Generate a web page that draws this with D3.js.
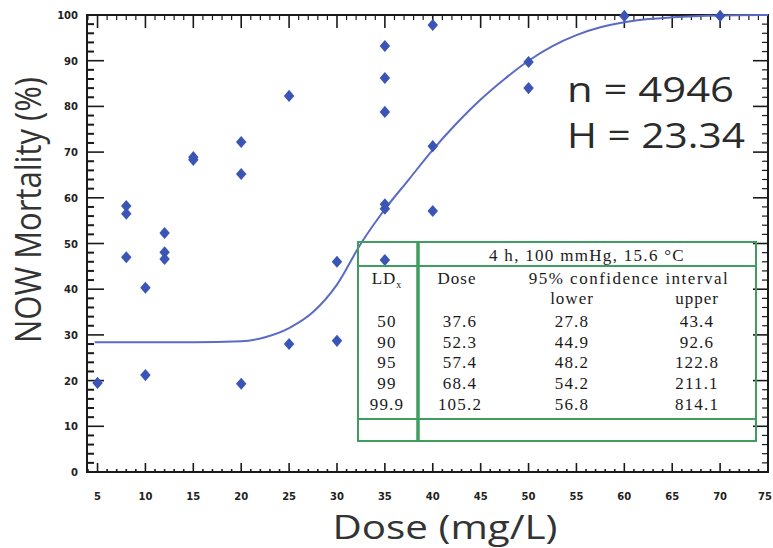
<!DOCTYPE html>
<html>
<head>
<meta charset="utf-8">
<script src="https://cdn.jsdelivr.net/npm/d3@7"></script>
<style>
  body { margin: 0; background: #fff; }
  svg { display: block; }
</style>
</head>
<body>
<div id="chart"></div>
<script>
// Data: observed mortality points
const doseObs = [5, 8, 8, 8, 10, 10, 12, 12, 12, 15, 15, 20, 20, 20, 25, 25, 30, 30,
  35, 35, 35, 35, 35, 35, 40, 40, 40, 50, 50, 60, 70];
const mortObs = [19.5, 58.2, 56.5, 47, 40.3, 21.2, 52.3, 48.1, 46.6, 68.9, 68.3, 72.2, 65.2, 19.3, 82.3, 28, 46, 28.7,
  93.2, 86.2, 78.8, 58.6, 57.6, 46.4, 97.8, 71.3, 57.1, 89.7, 84, 99.8, 99.8];

// Fitted curve
const fitDose = [4.7, 10, 15, 20, 22.5, 25, 27.5, 30, 32.5, 35, 37.5, 40, 42.5, 45, 47.5, 50, 52.5, 55, 57.5, 60, 62.5, 65, 70, 75];
const fitMort = [28.4, 28.4, 28.4, 28.6, 29.5, 31.5, 35, 41, 50, 57.5, 64, 70.5, 76.3, 81.5, 86, 90, 93.2, 95.6, 97.3, 98.4, 99.1, 99.5, 99.9, 100];

// Tick labels
const xTicks = [5, 10, 15, 20, 25, 30, 35, 40, 45, 50, 55, 60, 65, 70, 75];
const yTicks = [0, 10, 20, 30, 40, 50, 60, 70, 80, 90, 100];

// Table
const tableHeader = "4 h, 100 mmHg, 15.6 °C";
const ldLevels = ["50", "90", "95", "99", "99.9"];
const ldDose = ["37.6", "52.3", "57.4", "68.4", "105.2"];
const ciLower = ["27.8", "44.9", "48.2", "54.2", "56.8"];
const ciUpper = ["43.4", "92.6", "122.8", "211.1", "814.1"];

const statsLines = ["n = 4946", "H = 23.34"];

// Dimensions
const width = 773, height = 548;
const svg = d3.select('#chart').append('svg')
  .attr('width', width).attr('height', height);

const x = d3.scaleLinear().domain([3.9, 75]).range([87, 768]);
const y = d3.scaleLinear().domain([0, 100]).range([472, 15]);

const axisColor = '#1a1a1a';

// frame
svg.append('rect')
  .attr('x', x.range()[0]).attr('y', y.range()[1])
  .attr('width', x.range()[1] - x.range()[0])
  .attr('height', y.range()[0] - y.range()[1])
  .attr('fill', 'none').attr('stroke', axisColor).attr('stroke-width', 2);

// minor/major ticks
const xMinor = d3.range(4, 76, 1).filter(v => v % 5 !== 0);
const yMinor = d3.range(0, 101, 2).filter(v => v % 10 !== 0);

function ticks(g, vals, len, side, w) {
  const horiz = side === 'bottom' || side === 'top';
  g.selectAll(null).data(vals).join('line')
    .attr('x1', d => horiz ? x(d) : (side === 'left' ? x.range()[0] : x.range()[1]))
    .attr('x2', d => horiz ? x(d) : (side === 'left' ? x.range()[0] + len : x.range()[1] - len))
    .attr('y1', d => !horiz ? y(d) : (side === 'bottom' ? y.range()[0] : y.range()[1]))
    .attr('y2', d => !horiz ? y(d) : (side === 'bottom' ? y.range()[0] - len : y.range()[1] + len))
    .attr('stroke', axisColor).attr('stroke-width', w);
}
const tg = svg.append('g');
ticks(tg, xTicks, 9, 'bottom', 1.6);
ticks(tg, xMinor, 3, 'bottom', 1.6);
ticks(tg, xTicks, 13, 'top', 1.6);
ticks(tg, xMinor, 5, 'top', 1.2);
ticks(tg, yTicks, 17, 'left', 1.6);
ticks(tg, yMinor, 7, 'left', 2);
ticks(tg, yTicks, 15, 'right', 1.6);
ticks(tg, yMinor, 6, 'right', 1.2);

// tick labels
svg.append('g').selectAll('text').data(xTicks).join('text')
  .attr('x', d => d === 75 ? 772 : x(d)).attr('y', 500)
  .attr('text-anchor', d => d === 75 ? 'end' : 'middle')
  .style('font', 'bold 10px "DejaVu Sans"').attr('fill', '#222')
  .text(d => d);
svg.append('g').selectAll('text').data(yTicks).join('text')
  .attr('x', 78).attr('y', d => y(d) + 4)
  .attr('text-anchor', 'end')
  .style('font', 'bold 10px "DejaVu Sans"').attr('fill', '#222')
  .text(d => d);

// axis titles
svg.append('text')
  .attr('transform', 'translate(41, 210) rotate(-90)')
  .attr('text-anchor', 'middle')
  .attr('textLength', 266).attr('lengthAdjust', 'spacingAndGlyphs')
  .style('font', '36px "Open Sans"').attr('fill', '#333')
  .text('NOW Mortality (%)');
svg.append('text')
  .attr('x', 445).attr('y', 539)
  .attr('text-anchor', 'middle')
  .attr('textLength', 225).attr('lengthAdjust', 'spacingAndGlyphs')
  .style('font', '33px "Open Sans"').attr('fill', '#333')
  .text('Dose (mg/L)');

// fitted curve
const line = d3.line()
  .x((d, i) => x(fitDose[i]))
  .y(d => y(d))
  .curve(d3.curveMonotoneX);
svg.append('path')
  .attr('d', line(fitMort))
  .attr('fill', 'none').attr('stroke', '#5a6bc6').attr('stroke-width', 2);

// points
const sym = d3.symbol().type(d3.symbolDiamond).size(52);
svg.append('g').selectAll('path').data(mortObs).join('path')
  .attr('d', sym)
  .attr('transform', (d, i) => `translate(${x(doseObs[i])},${y(d)}) scale(1.35,0.9)`)
  .attr('fill', '#3a55b5');

// n / H
svg.append('g').selectAll('text').data(statsLines).join('text')
  .attr('x', 567).attr('y', (d, i) => 102 + i * 46)
  .attr('textLength', (d, i) => i === 0 ? 167 : 178).attr('lengthAdjust', 'spacingAndGlyphs')
  .style('font', '34px "Open Sans"').attr('fill', '#2b2b2b')
  .text(d => d);

// table
const green = '#3f9e5f';
const tbl = svg.append('g');
const tL = 358, tR = 756, tT = 242, tB = 441, tMid = 419, tHead = 266, tCol = 418;
tbl.append('rect').attr('x', tL).attr('y', tT).attr('width', tR - tL).attr('height', tB - tT)
  .attr('fill', 'none').attr('stroke', green).attr('stroke-width', 2);
tbl.append('line').attr('x1', tL).attr('x2', tR).attr('y1', tHead).attr('y2', tHead)
  .attr('stroke', green).attr('stroke-width', 2);
tbl.append('line').attr('x1', tL).attr('x2', tR).attr('y1', tMid).attr('y2', tMid)
  .attr('stroke', green).attr('stroke-width', 2);
tbl.append('line').attr('x1', tCol).attr('x2', tCol).attr('y1', tT).attr('y2', tB)
  .attr('stroke', green).attr('stroke-width', 3.5);

const serif = '17px "Liberation Serif"';
function tText(tx, ty, s, ls) {
  return tbl.append('text').attr('x', tx).attr('y', ty).attr('text-anchor', 'middle')
    .style('font', serif).style('letter-spacing', (ls || 1) + 'px').attr('fill', '#1a1a1a').text(s);
}
tText(587, 261, tableHeader, 1.3);
const ld = tText(387, 284, 'LD', 1);
ld.append('tspan').attr('dy', 4).style('font-size', '10px').text('x');
tText(457, 284, 'Dose', 1);
tText(629, 284, '95% confidence interval', 1.5);
tText(572, 304, 'lower', 1);
tText(697, 304, 'upper', 1);
const rowY = d3.range(ldLevels.length).map(i => 327 + i * 20.7);
[ldLevels, ldDose, ciLower, ciUpper].forEach((col, c) => {
  const cx = [387, 460, 572, 697][c];
  col.forEach((v, i) => tText(cx, rowY[i], v, 1.2));
});
</script>
</body>
</html>
